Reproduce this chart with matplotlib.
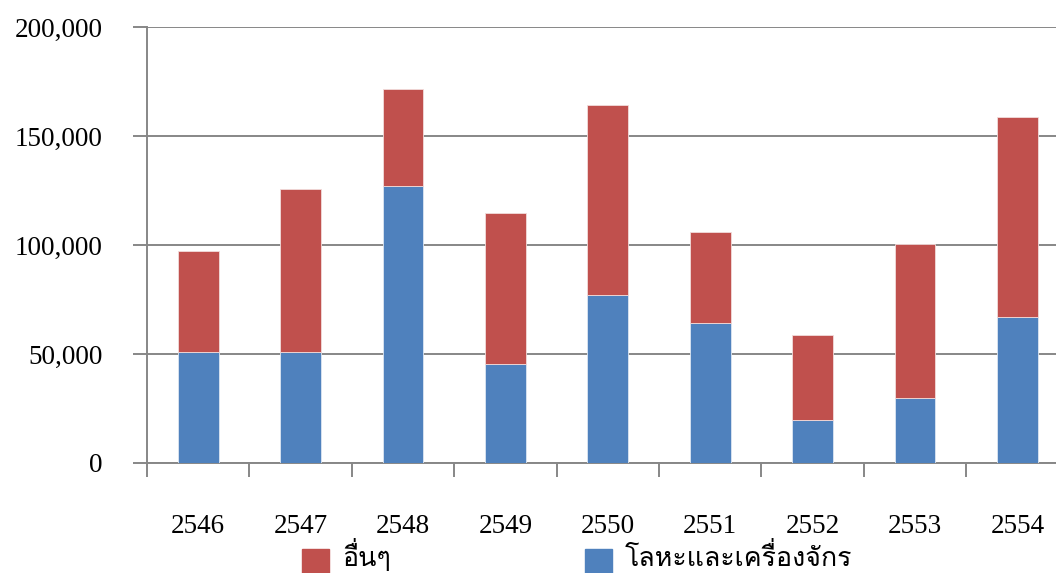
import matplotlib
matplotlib.use("Agg")
import matplotlib.pyplot as plt
from matplotlib.patches import Rectangle
from matplotlib.ticker import FuncFormatter, FixedLocator
import numpy as np

# Buddhist-era years
years = ["2546", "2547", "2548", "2549", "2550", "2551", "2552", "2553", "2554"]
# Metals and machinery
metal_machinery = [50800, 51100, 126900, 45300, 76900, 64100, 19600, 29700, 66800]
# Others
others = [46400, 74600, 44500, 69500, 87300, 41900, 39100, 70600, 91800]

label_metal = "โลหะและเครื่องจักร"
label_other = "อื่นๆ"
color_metal = "#4F81BD"
color_other = "#C0504D"
grid_color = "#878787"
line_w = 1.4

num_font = "Liberation Serif"
thai_font = ["Loma", "Sarabun", "DejaVu Sans"]
fs = 19.5

W, H = 1056, 573
fig = plt.figure(figsize=(W / 100, H / 100), dpi=100)
ax = fig.add_axes([147 / W, (H - 463) / H, 921.6 / W, 436 / H])

x = np.arange(len(years))
ax.bar(x, metal_machinery, width=0.4, color=color_metal,
       edgecolor="#dce6f2", linewidth=0.6, zorder=3)
ax.bar(x, others, width=0.4, bottom=metal_machinery, color=color_other,
       edgecolor="#f2dcdb", linewidth=0.6, zorder=3)

ax.set_xlim(-0.5, len(years) - 0.5)
ax.set_ylim(0, 200000)
ax.set_yticks(np.arange(0, 200001, 50000))
ax.yaxis.set_major_formatter(FuncFormatter(lambda v, p: f"{int(v):,}"))
ax.yaxis.grid(True, color=grid_color, linewidth=line_w, zorder=0)
ax.set_axisbelow(True)

# Category boundary tick marks, labels at category centres
ax.xaxis.set_major_locator(FixedLocator(np.arange(-0.5, len(years), 1.0)))
ax.set_xticks(x, minor=True)
ax.set_xticklabels(years, minor=True)
ax.tick_params(axis="x", which="major", labelbottom=False, length=10,
               width=line_w, color=grid_color, direction="out")
ax.tick_params(axis="x", which="minor", length=0, pad=37)
ax.tick_params(axis="y", length=10, width=line_w, color=grid_color,
               direction="out", pad=22)

for lab in ax.get_xticklabels(minor=True) + ax.get_yticklabels():
    lab.set_fontfamily(num_font)
    lab.set_fontsize(fs)
    lab.set_color("black")

for side in ("top", "right"):
    ax.spines[side].set_visible(False)
for side in ("left", "bottom"):
    ax.spines[side].set_color(grid_color)
    ax.spines[side].set_linewidth(line_w)

# Legend drawn below the axis: colour square followed by its label
sq = 27
legend_texts = []
for x0, col, txt in [(302, color_other, label_other),
                     (585, color_metal, label_metal)]:
    fig.patches.append(Rectangle((x0 / W, (H - 549 - sq) / H), sq / W, sq / H,
                                 transform=fig.transFigure, color=col))
    t = fig.text((x0 + sq + 13) / W, (H - 566) / H, txt, family=thai_font,
                 fontsize=fs, va="baseline", ha="left")
    legend_texts.append(t)

# Fit the longer legend label to its intended width
renderer = fig.canvas.get_renderer()
width_px = legend_texts[1].get_window_extent(renderer).width
thai_fs = fs * 228 / width_px
for t in legend_texts:
    t.set_fontsize(thai_fs)

fig.savefig("out.png", dpi=100)
